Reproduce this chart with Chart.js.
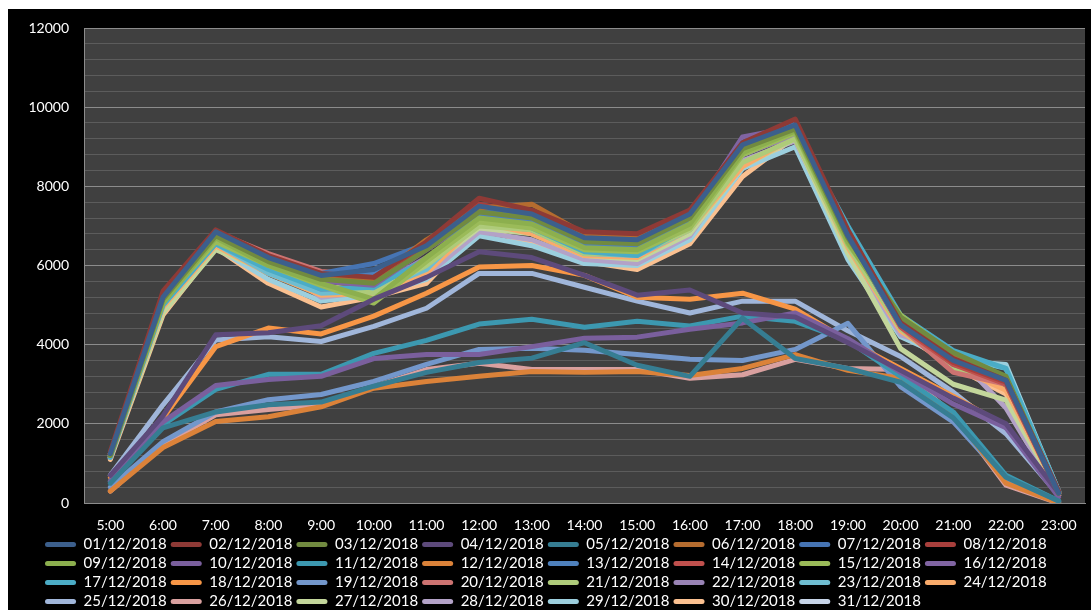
<!DOCTYPE html>
<html>
<head>
<meta charset="utf-8">
<script src="https://cdn.jsdelivr.net/npm/chart.js@4.4.1/dist/chart.umd.min.js"></script>
<style>
    html, body { margin: 0; padding: 0; background: #fff; }
    #contenido { position: absolute; left: 8px; top: 9px; width: 1083px; height: 601px; background: #000; }
</style>
</head>
<body>
<div id="contenido"><canvas id="diagramaHoras" width="1083" height="601"></canvas></div>
<script>
// horas del dia (eje x)
var horas = ['5:00', '6:00', '7:00', '8:00', '9:00', '10:00', '11:00', '12:00', '13:00', '14:00',
    '15:00', '16:00', '17:00', '18:00', '19:00', '20:00', '21:00', '22:00', '23:00'];

// valores, uno por hora
var dia01 = [1250, 5200, 6850, 6200, 5750, 5900, 6500, 7500, 7300, 6700, 6650, 7300, 9050, 9550, 6750, 4500, 3600, 3100, 250];
var dia02 = [1300, 5350, 6900, 6250, 5800, 5700, 6600, 7700, 7400, 6850, 6800, 7400, 9100, 9700, 6900, 4550, 3650, 3100, 300];
var dia03 = [1200, 5150, 6750, 6100, 5650, 5550, 6400, 7350, 7200, 6600, 6550, 7200, 8950, 9450, 6700, 4700, 3800, 3200, 250];
var dia04 = [700, 2200, 4250, 4300, 4480, 5150, 5700, 6350, 6200, 5750, 5250, 5380, 4800, 4700, 4050, 3350, 2650, 2000, 250];
var dia05 = [500, 1900, 2300, 2480, 2550, 2950, 3300, 3550, 3660, 4050, 3480, 3200, 4670, 3650, 3400, 3050, 2150, 650, 50];
var dia06 = [1250, 5200, 6800, 6200, 5700, 5650, 6650, 7450, 7550, 6800, 6700, 7250, 9000, 9500, 6750, 4550, 3700, 3150, 250];
var dia07 = [1250, 5200, 6800, 6150, 5800, 6050, 6550, 7400, 7250, 6650, 6600, 7300, 9100, 9600, 6800, 4600, 3700, 3150, 250];
var dia08 = [1250, 5250, 6850, 6200, 5750, 5700, 6500, 7550, 7300, 6750, 6750, 7350, 9050, 9650, 6850, 4500, 3550, 3050, 250];
var dia09 = [1200, 5050, 6700, 6000, 5550, 5150, 6200, 7200, 7050, 6450, 6400, 7050, 8850, 9400, 6600, 4600, 3650, 3100, 250];
var dia10 = [550, 2050, 2970, 3120, 3200, 3650, 3750, 3750, 3950, 4160, 4190, 4390, 4550, 4800, 4150, 3300, 2500, 1900, 150];
var dia11 = [550, 1980, 2870, 3250, 3250, 3780, 4110, 4520, 4640, 4440, 4590, 4470, 4720, 4590, 4100, 3200, 2300, 700, 50];
var dia12 = [300, 1400, 2060, 2180, 2430, 2900, 3070, 3200, 3320, 3300, 3320, 3220, 3400, 3750, 3350, 3150, 2250, 500, 0];
var dia13 = [1200, 5100, 6750, 6150, 5700, 5800, 6450, 7250, 7100, 6500, 6450, 7150, 9100, 9500, 6700, 4500, 3600, 3050, 250];
var dia14 = [1250, 5200, 6800, 6150, 5650, 5650, 6450, 7300, 7150, 6600, 6550, 7250, 9000, 9550, 6750, 4450, 3500, 3000, 250];
var dia15 = [1200, 5100, 6600, 6000, 5500, 5050, 6100, 7100, 6950, 6400, 6350, 6950, 8800, 9350, 6550, 4750, 3750, 3150, 250];
var dia16 = [1200, 5100, 6700, 6100, 5600, 5500, 6400, 7250, 7100, 6600, 6450, 7200, 9250, 9500, 6700, 4500, 3500, 3150, 250];
var dia17 = [1150, 5000, 6550, 5900, 5400, 5450, 6150, 7150, 6950, 6350, 6250, 7000, 9000, 9450, 7000, 4750, 3850, 3400, 300];
var dia18 = [650, 2150, 3950, 4420, 4270, 4720, 5300, 5960, 6000, 5750, 5200, 5150, 5300, 4900, 4100, 3400, 2700, 1950, 200];
var dia19 = [400, 1550, 2300, 2610, 2740, 3070, 3500, 3880, 3910, 3860, 3750, 3630, 3600, 3880, 4540, 2940, 2050, 600, 30];
var dia20 = [1250, 5250, 6850, 6300, 5850, 5750, 6600, 7400, 7350, 6800, 6700, 7350, 8900, 9500, 6800, 4450, 3300, 3000, 250];
var dia21 = [1200, 5050, 6600, 5950, 5500, 5300, 6000, 7000, 6900, 6300, 6300, 6900, 8600, 9200, 6500, 4400, 3400, 3000, 250];
var dia22 = [1200, 5050, 6650, 6000, 5400, 5450, 6200, 7050, 6900, 6350, 6300, 7000, 8800, 9300, 6550, 4450, 3550, 3150, 250];
var dia23 = [1200, 5000, 6550, 5800, 5300, 5350, 5900, 7200, 6900, 6300, 6250, 6900, 8800, 9350, 6600, 4450, 3700, 3400, 300];
var dia24 = [1150, 4950, 6500, 5800, 5250, 5300, 5800, 7100, 6800, 6250, 6200, 6900, 8500, 9250, 6450, 4350, 3450, 2850, 250];
var dia25 = [700, 2480, 4120, 4200, 4080, 4460, 4920, 5800, 5800, 5450, 5100, 4800, 5100, 5100, 4350, 3700, 2800, 1750, 200];
var dia26 = [300, 1470, 2230, 2360, 2480, 2940, 3370, 3530, 3370, 3370, 3370, 3150, 3240, 3630, 3400, 3370, 2230, 450, 0];
var dia27 = [1150, 4800, 6400, 5850, 5450, 5400, 5900, 6950, 6800, 6250, 6150, 6800, 8500, 9200, 6300, 3900, 3000, 2600, 250];
var dia28 = [1150, 4900, 6550, 6100, 5200, 5350, 5750, 6850, 6650, 6150, 6050, 6750, 8650, 9150, 6400, 4250, 3800, 2400, 200];
var dia29 = [1150, 4850, 6450, 5650, 5100, 5250, 5650, 6750, 6500, 6050, 6000, 6650, 8450, 9000, 6150, 4200, 3600, 3500, 300];
var dia30 = [1100, 4750, 6450, 5550, 4950, 5200, 5550, 6950, 6550, 6100, 5900, 6550, 8250, 9250, 6200, 4300, 3450, 2750, 250];
// el 31 no tiene linea en el grafico
var dia31 = [null, null, null, null, null, null, null, null, null, null, null, null, null, null, null, null, null, null, null];

var valores = [dia01, dia02, dia03, dia04, dia05, dia06, dia07, dia08, dia09, dia10, dia11, dia12, dia13, dia14, dia15, dia16,
    dia17, dia18, dia19, dia20, dia21, dia22, dia23, dia24, dia25, dia26, dia27, dia28, dia29, dia30, dia31];

var fechas = [];
for (let i = 1; i <= 31; i++) {
    fechas.push((i < 10 ? '0' + i : '' + i) + '/12/2018');
}

var colores = ['#3C5F8C', '#8E3A36', '#718A40', '#5D4A7B', '#367D92', '#B56C2F', '#4674B3', '#A83F3C',
    '#8CAF4E', '#7A5F9D', '#3C98B0', '#DB8239', '#4F81BD', '#C0504D', '#9BBB59', '#8064A2',
    '#4BACC6', '#F79646', '#7397CB', '#CD7371', '#AECB7A', '#9983B5', '#6FBDD1', '#F9AB6B',
    '#A0B6DA', '#D9A09F', '#C3D69B', '#B3A2C7', '#9CCFDE', '#FAC090', '#C6D4E8'];

var fuente = 'Lato, "Liberation Sans", sans-serif';

// ancho de la muestra de la leyenda para que queden 8 columnas como en el original
var medidor = document.createElement('canvas').getContext('2d');
medidor.font = '15px ' + fuente;
var anchoTexto = medidor.measureText('01/12/2018').width;
var anchoMuestra = Math.max(20, 125.7 - 4 - 7.5 - anchoTexto);

var fondoGrafico = {
    id: 'fondoGrafico',
    afterLayout(chart) {
        // la leyenda empieza alineada con la columna de las etiquetas
        if (chart.legend) {
            chart.legend.left = 33;
        }
    },
    beforeDraw(chart) {
        let ctx = chart.ctx;
        let a = chart.chartArea;
        ctx.save();
        ctx.fillStyle = '#000';
        ctx.fillRect(0, 0, chart.width, chart.height);
        ctx.fillStyle = '#404040';
        ctx.fillRect(a.left, a.top, a.right - a.left, a.bottom - a.top);
        ctx.restore();
    }
};

function dibujarDiagrama() {
    let canvas = document.getElementById('diagramaHoras');

    let datasets = [];
    for (let i = 0; i < fechas.length; i++) {
        datasets.push({
            label: fechas[i],
            data: valores[i],
            borderColor: colores[i],
            backgroundColor: colores[i],
            borderWidth: 5,
            pointRadius: 0,
            pointHoverRadius: 0,
            tension: 0,
            fill: false,
            borderJoinStyle: 'round',
            borderCapStyle: 'round'
        });
    }

    let diagrama = new Chart(canvas, {
        type: 'line',
        data: {
            labels: horas,
            datasets: datasets
        },
        plugins: [fondoGrafico],
        options: {
            responsive: false,
            animation: false,
            layout: {
                padding: { left: 0, right: 6, top: 19, bottom: -9 }
            },
            plugins: {
                tooltip: { enabled: false },
                legend: {
                    position: 'bottom',
                    align: 'start',
                    labels: {
                        color: '#ffffff',
                        font: { family: fuente, size: 15 },
                        boxWidth: anchoMuestra,
                        boxHeight: 5,
                        padding: 4,
                        useBorderRadius: true,
                        borderRadius: 2.5,
                        generateLabels(chart) {
                            let items = Chart.defaults.plugins.legend.labels.generateLabels(chart);
                            items.forEach(function (it) {
                                it.lineWidth = 0;
                            });
                            return items;
                        }
                    }
                }
            },
            scales: {
                x: {
                    offset: true,
                    afterFit(scale) {
                        scale.height = 30;
                    },
                    grid: { display: false, drawTicks: false },
                    border: { display: true, color: '#8c8c8c', width: 1 },
                    ticks: {
                        color: '#ffffff',
                        font: { family: fuente, size: 14 },
                        padding: 14,
                        autoSkip: false,
                        maxRotation: 0
                    }
                },
                y: {
                    min: 0,
                    max: 12000,
                    afterFit(scale) {
                        scale.width = 76;
                        scale.paddingTop = 0;
                        scale.paddingBottom = 0;
                    },
                    grid: {
                        drawTicks: false,
                        lineWidth: 1,
                        color: function (ctx) {
                            return ctx.tick && ctx.tick.value % 2000 === 0 ? '#8c8c8c' : '#5c5c5c';
                        }
                    },
                    border: { display: true, color: '#8c8c8c', width: 1 },
                    ticks: {
                        stepSize: 400,
                        maxTicksLimit: 40,
                        autoSkip: false,
                        color: '#ffffff',
                        font: { family: fuente, size: 14 },
                        padding: 15,
                        callback: function (v) {
                            return v % 2000 === 0 ? v : '';
                        }
                    }
                }
            }
        }
    });
}

dibujarDiagrama();
</script>
</body>
</html>
